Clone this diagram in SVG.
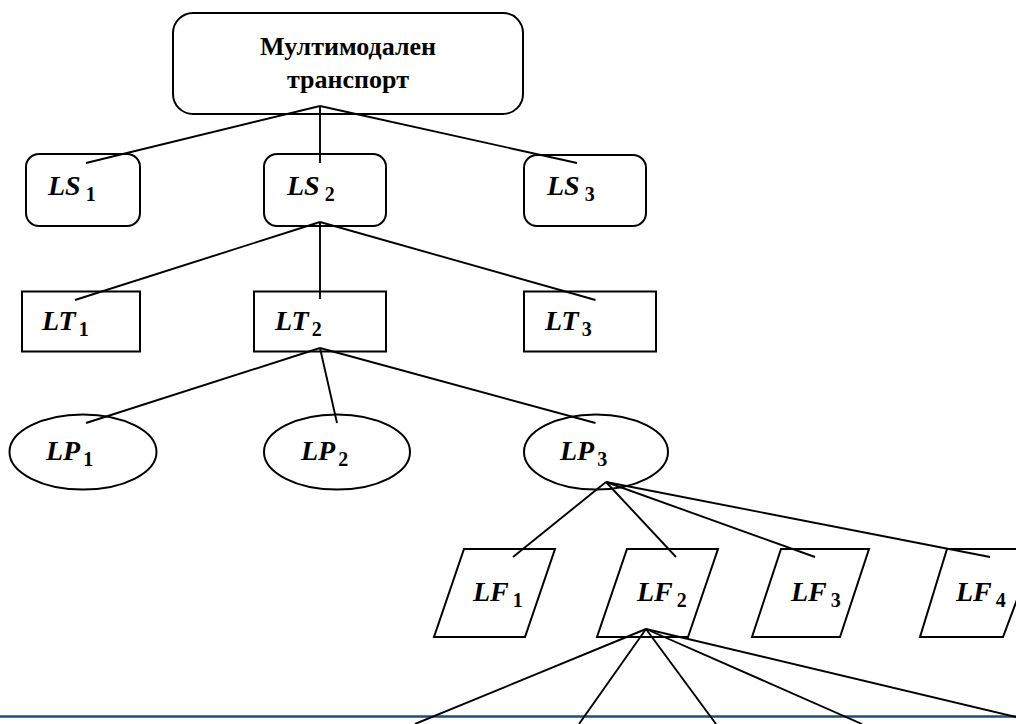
<svg xmlns="http://www.w3.org/2000/svg" width="1016" height="724" viewBox="0 0 1016 724">
<style>
.shape{fill:#fff;stroke:#000;stroke-width:2}
.conn line{stroke:#000;stroke-width:1.9}
.title{font-family:"Liberation Serif","Times New Roman",serif;font-weight:bold;font-size:26px;fill:#000;text-anchor:middle}
.m{font-family:"Liberation Serif","Times New Roman",serif;font-weight:bold;font-style:italic;font-size:28px;fill:#000}
.sub{font-style:normal;font-size:20px}
</style>
<rect width="1016" height="724" fill="#fff"/>
<line x1="0" y1="716.5" x2="1016" y2="716.5" stroke="#1F4E79" stroke-width="2.5"/>

<g id="root">
<rect class="shape" x="173" y="13" width="350" height="101" rx="20"/>
<text class="title" x="348" y="55">Мултимодален</text>
<text class="title" x="348" y="88">транспорт</text>
</g>

<g id="LS1"><rect class="shape" x="26" y="154" width="114" height="72" rx="13"/><text class="m" x="48" y="195">LS<tspan class="sub" dx="5" dy="6">1</tspan></text></g>
<g id="LS2"><rect class="shape" x="264" y="154" width="122" height="72" rx="13"/><text class="m" x="287" y="195">LS<tspan class="sub" dx="5" dy="6">2</tspan></text></g>
<g id="LS3"><rect class="shape" x="524" y="155" width="122" height="71" rx="13"/><text class="m" x="547" y="195">LS<tspan class="sub" dx="5" dy="6">3</tspan></text></g>

<g id="LT1"><rect class="shape" x="22" y="291.5" width="118" height="60"/><text class="m" x="42" y="330">LT<tspan class="sub" dx="3" dy="6">1</tspan></text></g>
<g id="LT2"><rect class="shape" x="254" y="291.5" width="132" height="60"/><text class="m" x="275" y="330">LT<tspan class="sub" dx="3" dy="6">2</tspan></text></g>
<g id="LT3"><rect class="shape" x="524" y="291.5" width="132" height="60"/><text class="m" x="545" y="330">LT<tspan class="sub" dx="3" dy="6">3</tspan></text></g>

<g id="LP1"><ellipse class="shape" cx="83" cy="452" rx="73.5" ry="37.5"/><text class="m" x="46" y="460">LP<tspan class="sub" dx="3" dy="6">1</tspan></text></g>
<g id="LP2"><ellipse class="shape" cx="337" cy="452" rx="73" ry="37.5"/><text class="m" x="301" y="460">LP<tspan class="sub" dx="3" dy="6">2</tspan></text></g>
<g id="LP3"><ellipse class="shape" cx="596" cy="452" rx="72" ry="37.5"/><text class="m" x="560" y="460">LP<tspan class="sub" dx="3" dy="6">3</tspan></text></g>

<g id="LF1"><polygon class="shape" points="464,549 555,549 525,637 434,637"/><text class="m" x="473" y="601">LF<tspan class="sub" dx="4" dy="6">1</tspan></text></g>
<g id="LF2"><polygon class="shape" points="627,549 718,549 688,637 597,637"/><text class="m" x="637" y="601">LF<tspan class="sub" dx="4" dy="6">2</tspan></text></g>
<g id="LF3"><polygon class="shape" points="781,549 869,549 840,637 752,637"/><text class="m" x="791" y="601">LF<tspan class="sub" dx="4" dy="6">3</tspan></text></g>
<g id="LF4"><polygon class="shape" points="947,549 1036,549 1003,637 920,637"/><text class="m" x="956" y="601">LF<tspan class="sub" dx="4" dy="6">4</tspan></text></g>

<g id="connectors" class="conn">
<line x1="320" y1="106" x2="86" y2="163"/>
<line x1="320" y1="106" x2="320" y2="163"/>
<line x1="320" y1="106" x2="577" y2="163"/>
<line x1="320" y1="222" x2="75" y2="300"/>
<line x1="320" y1="222" x2="320" y2="299"/>
<line x1="320" y1="222" x2="595.5" y2="300"/>
<line x1="320" y1="348" x2="86" y2="423"/>
<line x1="320" y1="348" x2="337" y2="423"/>
<line x1="320" y1="348" x2="595.5" y2="423"/>
<line x1="606" y1="482" x2="513" y2="557"/>
<line x1="606" y1="482" x2="676" y2="557"/>
<line x1="606" y1="482" x2="815" y2="557"/>
<line x1="606" y1="482" x2="990" y2="557"/>
<line x1="646" y1="629" x2="415" y2="724"/>
<line x1="646" y1="629" x2="579" y2="724"/>
<line x1="646" y1="629" x2="716" y2="724"/>
<line x1="646" y1="629" x2="862" y2="724"/>
<line x1="646" y1="629" x2="1050" y2="725"/>
</g>
</svg>
